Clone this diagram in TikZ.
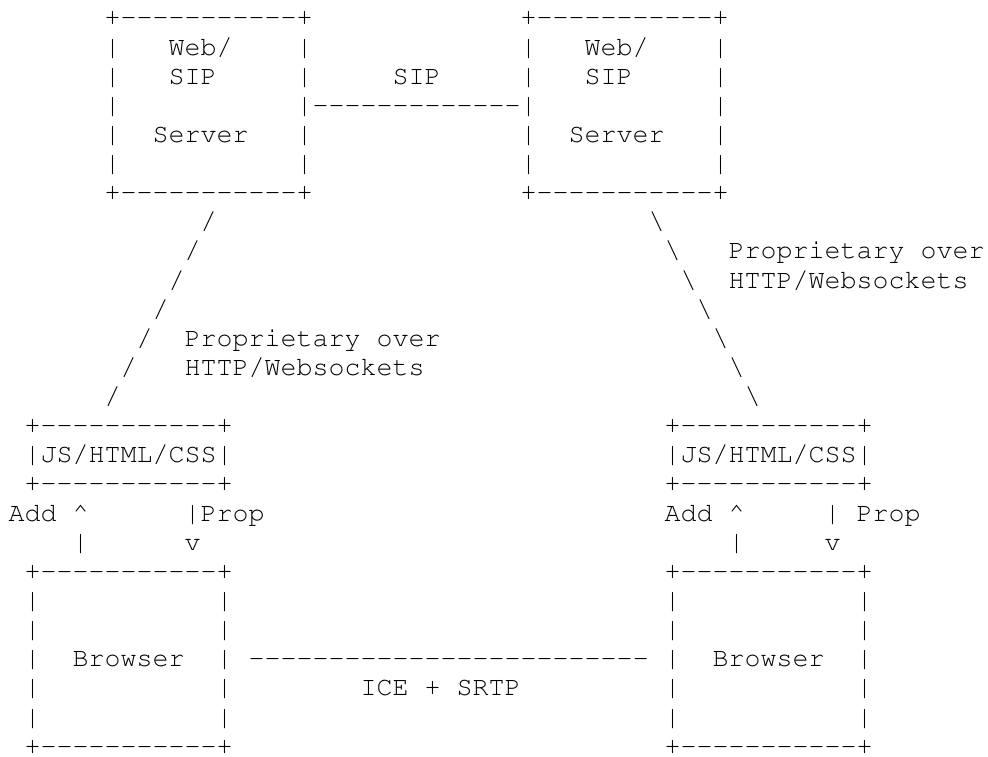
\documentclass[tikz,border=0pt]{standalone}
\usepackage[T1,TU]{fontenc}
\usepackage{tikz}

\newcommand{\asciidash}[1]{\foreach \k in {1,...,#1}{-}}
\tikzset{
  asc/.style={anchor=base west, inner sep=0pt, outer sep=0pt,
    font=\fontencoding{T1}\fontfamily{pcr}\fontseries{m}\fontshape{n}\fontsize{26.67pt}{29.13pt}\selectfont}
}

\begin{document}
\begin{tikzpicture}
        \fill[white] (0,0) rectangle (988pt,-756pt);
        \useasboundingbox (0,0) rectangle (988pt,-756pt);
        \begin{scope}[shift={(8.7pt,-25.9pt)}, x=16pt, y=-29.13pt]
            % servers
            \node[asc] (srvLtop) at (6,0) {+\asciidash{11}+};
            \node[asc] (srvRtop) at (32,0) {+\asciidash{11}+};
            \node[asc] (srvLbot) at (6,6) {+\asciidash{11}+};
            \node[asc] (srvRbot) at (32,6) {+\asciidash{11}+};
            \foreach \r in {1,2,4,5} {
                \node[asc] (srvLw\r) at (6,\r) {|};
                \node[asc] (srvLe\r) at (18,\r) {|};
                \node[asc] (srvRw\r) at (32,\r) {|};
                \node[asc] (srvRe\r) at (44,\r) {|};
            }
            \node[asc] (srvLw3) at (6,3) {|};
            \node[asc] (sipLink) at (18,3) {|\asciidash{13}|};
            \node[asc] (srvRe3) at (44,3) {|};
            \node[asc] (srvLweb) at (10,1) {Web/};
            \node[asc] (srvLsip) at (10,2) {SIP};
            \node[asc] (srvLname) at (9,4) {Server};
            \node[asc] (srvRweb) at (36,1) {Web/};
            \node[asc] (srvRsip) at (36,2) {SIP};
            \node[asc] (srvRname) at (35,4) {Server};
            \node[asc] (sipLabel) at (24,2) {SIP};

            % signalling paths
            \foreach \r/\c in {7/12,8/11,9/10,10/9,11/8,12/7,13/6}
                \node[asc] (sigL\r) at (\c,\r) {/};
            \foreach \r/\c in {7/40,8/41,9/42,10/43,11/44,12/45,13/46}
                \node[asc] (sigR\r) at (\c,\r) {\textbackslash};
            \node[asc] (propL1) at (11,11) {Proprietary over};
            \node[asc] (propL2) at (11,12) {HTTP/Websockets};
            \node[asc] (propR1) at (45,8) {Proprietary over};
            \node[asc] (propR2) at (45,9) {HTTP/Websockets};

            % js apps
            \node[asc] (jsLtop) at (1,14) {+\asciidash{11}+};
            \node[asc] (jsL) at (1,15) {|JS/HTML/CSS|};
            \node[asc] (jsLbot) at (1,16) {+\asciidash{11}+};
            \node[asc] (jsRtop) at (41,14) {+\asciidash{11}+};
            \node[asc] (jsR) at (41,15) {|JS/HTML/CSS|};
            \node[asc] (jsRbot) at (41,16) {+\asciidash{11}+};

            % api calls
            \node[asc] (addL) at (0,17) {Add \textasciicircum};
            \node[asc] (propDL) at (11,17) {|Prop};
            \node[asc] (upL) at (4,18) {|};
            \node[asc] (downL) at (11,18) {v};
            \node[asc] (addR) at (41,17) {Add \textasciicircum};
            \node[asc] (propDR) at (51,17) {| Prop};
            \node[asc] (upR) at (45,18) {|};
            \node[asc] (downR) at (51,18) {v};

            % browsers
            \node[asc] (brLtop) at (1,19) {+\asciidash{11}+};
            \node[asc] (brRtop) at (41,19) {+\asciidash{11}+};
            \node[asc] (brLbot) at (1,25) {+\asciidash{11}+};
            \node[asc] (brRbot) at (41,25) {+\asciidash{11}+};
            \foreach \r in {20,...,24} {
                \node[asc] (brLw\r) at (1,\r) {|};
                \node[asc] (brLe\r) at (13,\r) {|};
                \node[asc] (brRw\r) at (41,\r) {|};
                \node[asc] (brRe\r) at (53,\r) {|};
            }
            \node[asc] (brLname) at (4,22) {Browser};
            \node[asc] (brRname) at (44,22) {Browser};
            \node[asc] (mediaLink) at (15,22) {\asciidash{25}};
            \node[asc] (mediaLabel) at (22,23) {ICE + SRTP};
        \end{scope}
\end{tikzpicture}
\end{document}
